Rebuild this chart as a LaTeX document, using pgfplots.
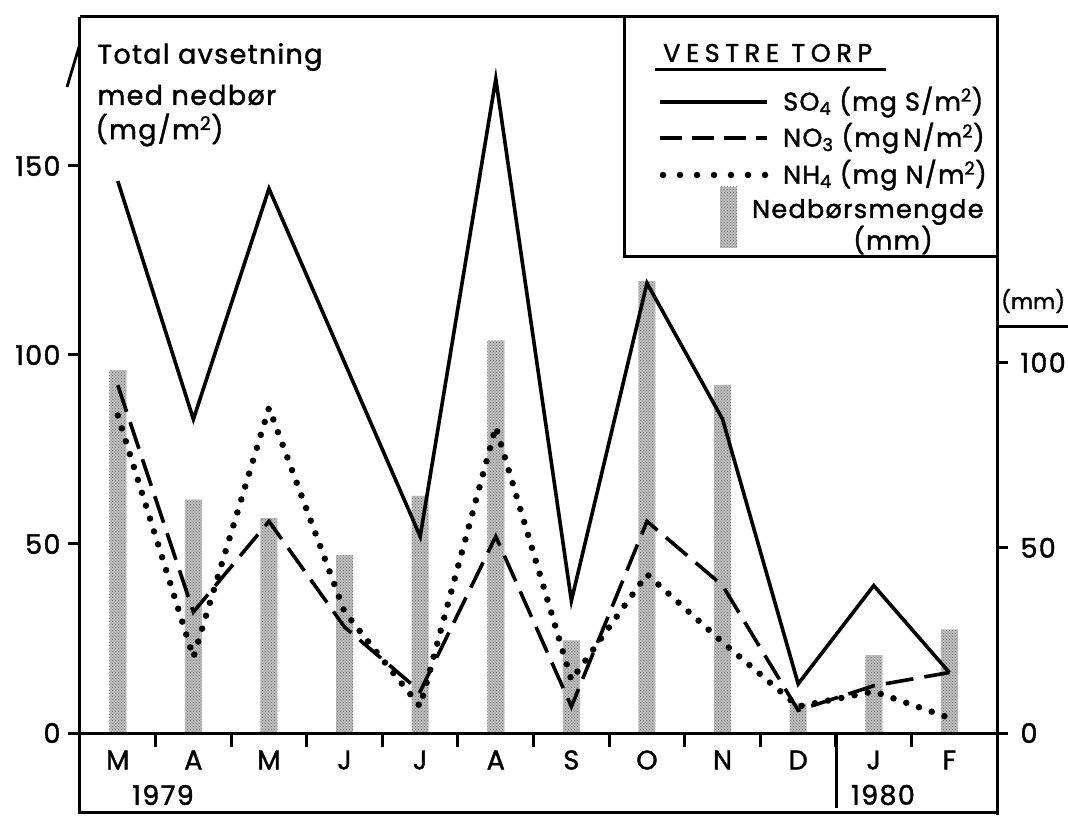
\documentclass[border=0pt]{standalone}
\usepackage{fontspec}
\setmainfont{Poppins}[LetterSpace=5, FakeBold=1.5]
\usepackage{pgfplots}
\usepackage{pgfplotstable}
\pgfplotsset{compat=1.18}
\usetikzlibrary{patterns}

% month index, SO4, NO3, NH4 (mg/m2), precipitation (mm)
\pgfplotstableread{
x  so4  no3   nh4  mm
0  146  92    84   98
1  83   32    20   63
2  144  56    86   58
3  98   28    32   48
4  52   11    7    64
5  173  52    81   106
6  35   7     14   25
7  119  56    42   122
8  83   39    24   94
9  13   6     7    8
10 39   12.5  11   21
11 16   16    4    28
}\data

\newcommand{\lbl}{\fontsize{27}{31}\selectfont}
\newcommand{\leg}{\fontsize{25.5}{29}\selectfont}

\begin{document}
\begin{tikzpicture}[x=1pt,y=1pt]
\useasboundingbox (-80,-82) rectangle (988,733);

% precipitation bars, right axis (mm)
\begin{axis}[
  at={(0,0)}, anchor=south west,
  width=917pt, height=716pt, scale only axis,
  xmin=-0.5, xmax=11.63,
  ymin=0, ymax=193.3,
  axis x line=none,
  axis y line*=right,
  axis line style={-, line width=3pt},
  ytick={0,50,100},
  tick align=outside,
  major tick length=11pt,
  tick style={line width=3pt, black},
  yticklabel style={font=\lbl, xshift=9pt},
  /pgf/number format/assume math mode=true,
  clip=false,
]
\addplot[ybar, bar width=17pt, draw=none, fill=gray!50,
  postaction={pattern=crosshatch dots, pattern color=black!60}]
  table[x=x, y=mm] {\data};
\end{axis}

% deposition lines, left axis (mg/m2)
\begin{axis}[
  at={(0,0)}, anchor=south west,
  width=917pt, height=716pt, scale only axis,
  xmin=-0.5, xmax=11.63,
  ymin=0, ymax=189.4,
  axis x line*=bottom,
  axis y line*=left,
  axis line style={-, line width=3pt},
  ytick={0,50,100,150},
  xtick={0,...,11},
  xticklabels={M,A,M,J,J,A,S,O,N,D,J,F},
  minor xtick={0.5,1.5,...,10.5},
  major x tick style={draw=none},
  tick align=outside,
  major tick length=12pt,
  minor tick length=14pt,
  tick style={line width=3pt, black},
  yticklabel style={font=\lbl, xshift=-4pt},
  xticklabel style={font=\lbl, anchor=center, yshift=-15pt},
  /pgf/number format/assume math mode=true,
  clip=false,
]
\addplot[black, line width=3.6pt, line join=miter] table[x=x, y=so4] {\data};
\addplot[black, line width=3.6pt, dash pattern=on 28pt off 11pt] table[x=x, y=no3] {\data};
\addplot[black, line width=6.5pt, line cap=round, dash pattern=on 0pt off 13.5pt] table[x=x, y=nh4] {\data};
\end{axis}

% frame and month band
\draw[line width=3pt] (0,716) -- (917,716);
\draw[line width=3pt] (917,716) -- (917,-82);
\draw[line width=3pt] (0,716) -- (0,-79) -- (917,-79);
\draw[line width=3pt] (756,0) -- (756,-75);
\draw[line width=2.8pt] (-13,646) -- (-1,686);
\node[font=\lbl] at (83,-62) {1979};
\node[font=\lbl] at (803,-62) {1980};

% left axis title
\node[font=\lbl, anchor=west] at (14,676) {Total avsetning};
\node[font=\lbl, anchor=west] at (14,638) {med nedbør};
\node[font=\lbl, anchor=west] at (12,603) {(mg/m\textsuperscript{2})};

% right axis unit
\node[font=\fontsize{21.5}{25}\selectfont\addfontfeature{LetterSpace=0}, anchor=west, inner sep=0pt] at (921,432) {(mm)};
\draw[line width=3pt] (917,407) -- (988,407);

% legend box
\draw[line width=3pt, fill=white] (544,716) rectangle (917,476);
\node[font=\leg\addfontfeature{LetterSpace=22}, anchor=west, inner sep=0pt] at (583,680) {VESTRE\ TORP};
\draw[line width=3pt] (575,663) -- (806,663);
\draw[line width=3.6pt] (580,631) -- (687,631);
\node[font=\leg, anchor=west, inner sep=0pt] at (703,631) {SO\textsubscript{4} (mg S/m\textsuperscript{2})};
\draw[line width=3.6pt, dash pattern=on 22pt off 10pt] (580,595) -- (687,595);
\node[font=\leg, anchor=west, inner sep=0pt] at (703,595) {NO\textsubscript{3} (mg\,N/m\textsuperscript{2})};
\draw[line width=6.5pt, line cap=round, dash pattern=on 0pt off 17pt] (583,558) -- (687,558);
\node[font=\leg, anchor=west, inner sep=0pt] at (703,558) {NH\textsubscript{4} (mg N/m\textsuperscript{2})};
\fill[gray!50, postaction={pattern=crosshatch dots, pattern color=black!60}] (640,546) rectangle (657,485);
\node[font=\leg, anchor=west, inner sep=0pt] at (672,521) {Nedbørsmengde};
\node[font=\leg] at (813,493) {(mm)};
\end{tikzpicture}
\end{document}
